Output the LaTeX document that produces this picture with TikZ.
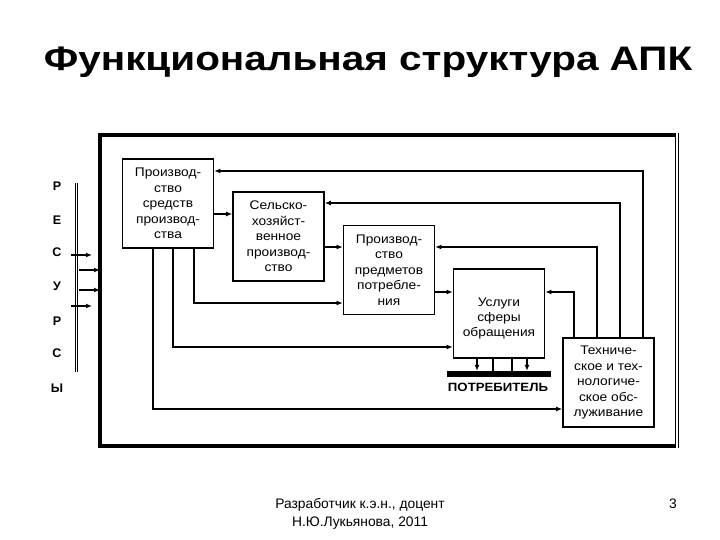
\documentclass[tikz,border=0pt]{standalone}
\usepackage{fontspec}
\setmainfont{Liberation Sans}
\newfontfamily\titlefont[FakeStretch=1.19]{Liberation Sans}
\newfontfamily\boxfont[FakeStretch=1.1]{Liberation Sans}
\usetikzlibrary{arrows.meta}
\tikzset{
  blk/.style={draw, line width=1.6pt, minimum width=91pt, minimum height=89pt, inner sep=0pt, align=center, font=\boxfont\fontsize{12.5}{15.5}\selectfont},
  blktext/.style={inner sep=0pt, align=center, font=\boxfont\fontsize{12.5}{15}\selectfont},
  conn/.style={line width=1.6pt, -{Latex[length=6pt,width=5pt]}},
  plain/.style={line width=1.6pt},
  res/.style={font=\bfseries\fontsize{12.5}{15}\selectfont, inner sep=0pt},
  foottext/.style={font=\fontsize{13.8}{16}\selectfont, inner sep=0pt}
}
\begin{document}
\begin{tikzpicture}[x=1pt,y=-1pt]
\useasboundingbox (0,0) rectangle (720,540);
% title
\node[anchor=base, font=\titlefont\bfseries\fontsize{34}{40}\selectfont, inner sep=0pt] (title) at (368,71) {Функциональная структура АПК};
% outer frame
\draw[line width=3.8pt] (677,135) -- (100,135) -- (100,446) -- (677,446);
\draw[line width=0.9pt, double, double distance=1.8pt] (677,133.5) -- (677,447.5);
% resources
\node[res] (l1) at (57,186) {Р};
\node[res] (l2) at (57,220) {Е};
\node[res] (l3) at (57,252) {С};
\node[res] (l4) at (57,286) {У};
\node[res] (l5) at (57,321) {Р};
\node[res] (l6) at (57,353) {С};
\node[res] (l7) at (57,388) {Ы};
\coordinate (rtop) at (76.5,183);
\coordinate (rbot) at (76.5,372);
\draw[line width=0.9pt, double, double distance=1.8pt] (rtop) -- (rbot);
\coordinate (a1s) at (71,255); \coordinate (a1e) at (92,255);
\coordinate (a2s) at (79,270); \coordinate (a2e) at (100,270);
\coordinate (a3s) at (79,290); \coordinate (a3e) at (100,290);
\coordinate (a4s) at (71,306); \coordinate (a4e) at (92,306);
\draw[conn] (a1s) -- (a1e);
\draw[conn] (a2s) -- (a2e);
\draw[conn] (a3s) -- (a3e);
\draw[conn] (a4s) -- (a4e);
% blocks
\node[blk] (b1) at (168,203.5) {Производ-\\ство\\средств\\производ-\\ства};
\node[blk] (b2) at (278.5,236.5) {Сельско-\\хозяйст-\\венное\\производ-\\ство};
\node[blk] (b3) at (389,270) {Производ-\\ство\\предметов\\потребле-\\ния};
\node[blk] (b4) at (499,313.5) {};
\node[blktext] (b4t) at (499,318) {Услуги\\сферы\\обращения};
\node[blk] (b5) at (608.5,382.5) {Техниче-\\ское и тех-\\нологиче-\\ское обс-\\луживание};
% consumer bar
\node[fill=black, draw=none, minimum width=104pt, minimum height=6pt, inner sep=0pt] (bar) at (499,374) {};
\node[font=\boxfont\bfseries\fontsize{12}{14}\selectfont, inner sep=0pt] (cons) at (498,387) {ПОТРЕБИТЕЛЬ};
% chain arrows
\draw[conn] ([yshift=-10.5pt]b1.east) -- ([yshift=-10.5pt]b1.east -| b2.west);
\draw[conn] ([yshift=-10.5pt]b2.east) -- ([yshift=-10.5pt]b2.east -| b3.west);
\draw[conn] ([yshift=-22pt]b3.east) -- ([yshift=-22pt]b3.east -| b4.west);
% from b1 bottom
\draw[conn] ([xshift=26pt]b1.south) |- ([yshift=-33pt]b3.west);
\draw[conn] ([xshift=5pt]b1.south) |- ([yshift=-33.5pt]b4.west);
\draw[conn] ([xshift=-15pt]b1.south) |- ([yshift=-26.5pt]b5.west);
% from b5 top
\draw[conn] ([xshift=-34.5pt]b5.north) |- ([yshift=21.5pt]b4.east);
\draw[conn] ([xshift=-11.5pt]b5.north) |- ([yshift=23pt]b3.east);
\draw[conn] ([xshift=11.5pt]b5.north) |- ([yshift=33.5pt]b2.east);
\draw[conn] ([xshift=34.5pt]b5.north) |- ([yshift=32.5pt]b1.east);
% b4 to consumer
\draw[conn] ([xshift=-22pt]b4.south) -- ([xshift=-22pt]b4.south |- bar.north);
\draw[plain] ([xshift=-6pt]b4.south) -- ([xshift=-6pt]b4.south |- bar.north);
\draw[plain] ([xshift=13pt]b4.south) -- ([xshift=13pt]b4.south |- bar.north);
\draw[conn] ([xshift=28pt]b4.south) -- ([xshift=28pt]b4.south |- bar.north);
% footer
\node[foottext] (foot1) at (360,505) {Разработчик к.э.н., доцент};
\node[foottext] (foot2) at (360,523) {Н.Ю.Лукьянова, 2011};
\node[foottext] (pg) at (673,504) {3};
\end{tikzpicture}
\end{document}
